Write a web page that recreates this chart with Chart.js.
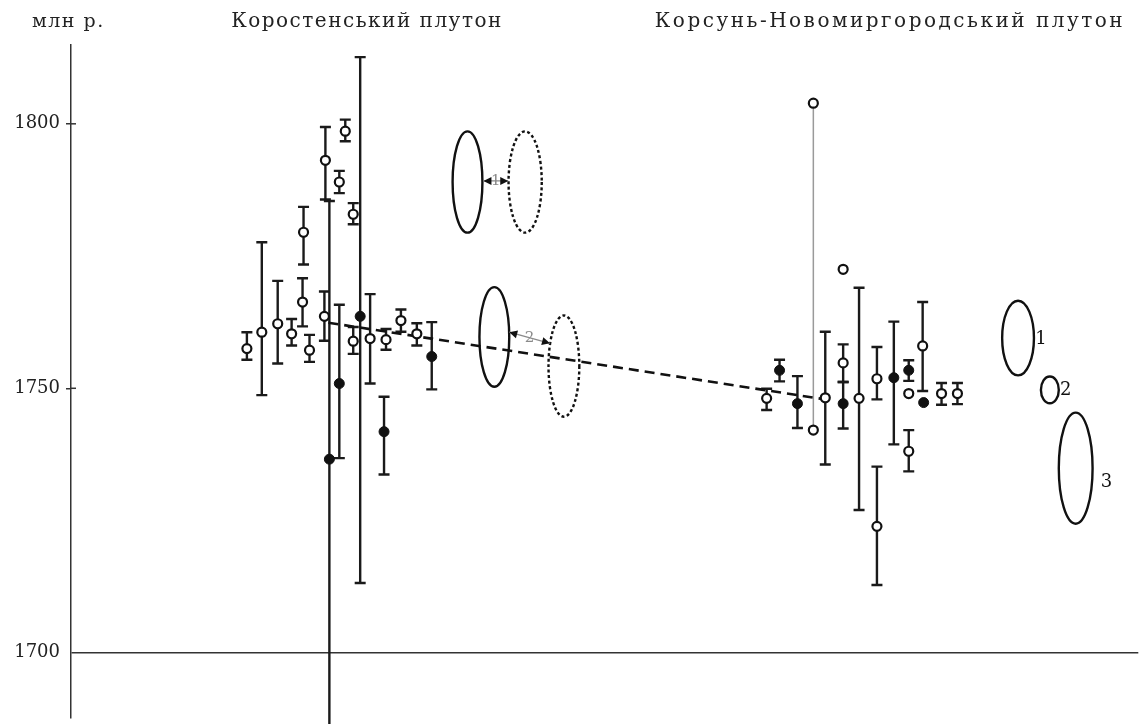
<!DOCTYPE html>
<html><head><meta charset="utf-8">
<script src="https://cdn.jsdelivr.net/npm/chart.js@4/dist/chart.umd.min.js"></script>
<style>html,body{margin:0;padding:0;background:#fff;} #wrap{width:1145px;height:724px;position:relative;}</style>
</head><body><div id="wrap"><canvas id="c" width="1145" height="724"></canvas></div>
<script>
// ---- data ----
const yTicks = [1700, 1750, 1800];
const unitLabel = 'млн р.';
const groupTitles = ['Коростенський плутон', 'Корсунь-Новомиргородський плутон'];

// open symbols: position, age, lower and upper limit (null = no bar)
const openX  = [17.7, 19.2, 20.8, 22.2, 23.3, 23.4, 24.0, 25.5, 25.6, 27.0, 27.6, 28.4, 28.4, 30.1, 31.7, 33.2, 34.8,
                70.0, 74.7, 74.7, 75.9, 77.7, 77.7, 79.3, 81.1, 81.1, 84.3, 84.3, 85.7, 87.6, 89.2];
const openY  = [1757.5, 1760.6, 1762.2, 1760.3, 1766.3, 1779.5, 1757.2, 1763.6, 1793.1, 1789.0, 1798.6, 1782.9, 1758.9, 1759.4, 1759.2, 1762.8, 1760.3,
                1748.1, 1742.1, 1803.9, 1748.2, 1754.8, 1772.5, 1748.1, 1751.8, 1723.9, 1749.0, 1738.1, 1758.0, 1749.0, 1749.0];
const openLo = [1755.4, 1748.7, 1754.7, 1758.1, 1761.7, 1773.4, 1755.0, 1759.0, 1785.7, 1786.9, 1796.7, 1781.0, 1756.5, 1750.9, 1757.3, 1760.7, 1758.1,
                1745.9, null, null, 1735.6, 1751.2, null, 1727.0, 1747.9, 1712.8, null, 1734.3, 1749.5, 1746.9, 1747.0];
const openHi = [1760.6, 1777.6, 1770.3, 1763.1, 1770.8, 1784.3, 1760.1, 1768.3, 1799.4, 1791.1, 1800.8, 1785.0, 1761.6, 1767.8, 1761.2, 1764.9, 1762.3,
                1749.9, null, null, 1760.7, 1758.3, null, 1769.0, 1757.8, 1735.2, null, 1742.1, 1766.3, 1751.0, 1751.0];

// filled symbols
const filledX  = [26.0, 27.0, 29.1, 31.5, 36.3, 71.3, 73.1, 77.7, 82.8, 84.3, 85.8];
const filledY  = [1736.6, 1750.9, 1763.6, 1741.8, 1756.0, 1753.4, 1747.1, 1747.1, 1752.0, 1753.4, 1747.3];
const filledLo = [1680.0, 1736.8, 1713.2, 1733.7, 1749.8, 1751.3, 1742.5, 1742.4, 1739.4, 1751.4, null];
const filledHi = [1785.4, 1765.8, 1812.6, 1748.4, 1762.5, 1755.4, 1752.3, 1751.2, 1762.6, 1755.3, null];

// thin grey range line
const rangeX  = [74.7];
const rangeLo = [1742.1];
const rangeHi = [1803.9];

// dashed trend
const trendX = [25.9, 75.9];
const trendY = [1762.4, 1747.9];

// ellipses: centre, half-width (position units), half-height (Ma), dashed?, label
const ellX      = [39.9, 45.7, 42.6, 49.6, 95.3, 98.5, 101.1];
const ellY      = [1789.0, 1789.0, 1759.7, 1754.2, 1759.5, 1749.7, 1734.9];
const ellRx     = [1.5, 1.67, 1.5, 1.55, 1.6, 0.9, 1.7];
const ellRy     = [9.57, 9.57, 9.42, 9.57, 7.06, 2.54, 10.5];
const ellDashed = [false, true, false, true, false, false, false];
const ellLabelX = [97.6, 100.1, 104.2];
const ellLabelY = [1759.3, 1749.6, 1732.2];
const ellLabels = ['1', '2', '3'];

// arrows between ellipse pairs
const arrowX1 = [41.5, 44.1];
const arrowY1 = [1789.2, 1760.6];
const arrowX2 = [44.0, 48.2];
const arrowY2 = [1789.2, 1758.5];
const arrowLabels = ['1', '2'];

// ---- drawing ----
const serif = "'DejaVu Serif', 'Liberation Serif', serif";
const toPts = (xs, ys) => xs.map((x, i) => ({x: x, y: ys[i]}));

function drawBars(ctx, xs, lo, hi, sx, sy, color, width, caps) {
  ctx.strokeStyle = color; ctx.lineWidth = width; ctx.lineCap = 'butt';
  for (let i = 0; i < xs.length; i++) {
    if (lo[i] == null || hi[i] == null) continue;
    const px = sx.getPixelForValue(xs[i]);
    const p1 = sy.getPixelForValue(lo[i]);
    const p2 = sy.getPixelForValue(hi[i]);
    ctx.beginPath(); ctx.moveTo(px, p1); ctx.lineTo(px, p2); ctx.stroke();
    if (caps) {
      ctx.beginPath();
      ctx.moveTo(px - 5.5, p1); ctx.lineTo(px + 5.5, p1);
      ctx.moveTo(px - 5.5, p2); ctx.lineTo(px + 5.5, p2);
      ctx.stroke();
    }
  }
}

function arrowHead(ctx, x, y, ang) {
  const L = 8, W = 4;
  ctx.beginPath();
  ctx.moveTo(x, y);
  ctx.lineTo(x - L * Math.cos(ang) + W * Math.sin(ang), y - L * Math.sin(ang) - W * Math.cos(ang));
  ctx.lineTo(x - L * Math.cos(ang) - W * Math.sin(ang), y - L * Math.sin(ang) + W * Math.cos(ang));
  ctx.closePath(); ctx.fill();
}

const marksPlugin = {
  id: 'marks',
  beforeDatasetsDraw(chart) {
    const {ctx, chartArea: a, scales: {x: sx, y: sy}} = chart;
    ctx.save();
    ctx.beginPath(); ctx.rect(a.left, a.top - 20, a.right - a.left, a.bottom - a.top + 30); ctx.clip();
    drawBars(ctx, rangeX, rangeLo, rangeHi, sx, sy, '#9a9a9a', 1.5, false);
    drawBars(ctx, openX, openLo, openHi, sx, sy, '#1a1a1a', 2.4, true);
    drawBars(ctx, filledX, filledLo, filledHi, sx, sy, '#1a1a1a', 2.4, true);
    // ellipses
    ctx.strokeStyle = '#111'; ctx.lineWidth = 2.4;
    for (let i = 0; i < ellX.length; i++) {
      const cx = sx.getPixelForValue(ellX[i]);
      const cy = sy.getPixelForValue(ellY[i]);
      const rx = Math.abs(sx.getPixelForValue(ellX[i] + ellRx[i]) - cx);
      const ry = Math.abs(sy.getPixelForValue(ellY[i] + ellRy[i]) - cy);
      ctx.setLineDash(ellDashed[i] ? [3, 2.5] : []);
      ctx.beginPath(); ctx.ellipse(cx, cy, rx, ry, 0, 0, Math.PI * 2); ctx.stroke();
    }
    ctx.setLineDash([]);
    // arrows
    for (let i = 0; i < arrowX1.length; i++) {
      const x1 = sx.getPixelForValue(arrowX1[i]), y1 = sy.getPixelForValue(arrowY1[i]);
      const x2 = sx.getPixelForValue(arrowX2[i]), y2 = sy.getPixelForValue(arrowY2[i]);
      ctx.strokeStyle = '#8a8a8a'; ctx.lineWidth = 1.3;
      ctx.beginPath(); ctx.moveTo(x1, y1); ctx.lineTo(x2, y2); ctx.stroke();
      ctx.fillStyle = '#111';
      const ang = Math.atan2(y2 - y1, x2 - x1);
      arrowHead(ctx, x2, y2, ang);
      arrowHead(ctx, x1, y1, ang + Math.PI);
      ctx.fillStyle = '#8a8a8a';
      ctx.font = '15px ' + serif; ctx.textAlign = 'center'; ctx.textBaseline = 'middle';
      ctx.fillText(arrowLabels[i], (x1 + x2) / 2, (y1 + y2) / 2);
    }
    // ellipse labels
    ctx.fillStyle = '#111'; ctx.font = '18px ' + serif; ctx.textAlign = 'center'; ctx.textBaseline = 'middle';
    for (let i = 0; i < ellLabels.length; i++) {
      ctx.fillText(ellLabels[i], sx.getPixelForValue(ellLabelX[i]), sy.getPixelForValue(ellLabelY[i]));
    }
    ctx.restore();
  },
  afterDraw(chart) {
    const {ctx, chartArea: a, scales: {y: sy}} = chart;
    ctx.save();
    // inner half of the tick marks
    ctx.strokeStyle = '#333'; ctx.lineWidth = 1.5;
    yTicks.forEach(v => {
      if (v === 1700) return;
      const py = sy.getPixelForValue(v);
      ctx.beginPath(); ctx.moveTo(a.left, py); ctx.lineTo(a.left + 5, py); ctx.stroke();
    });
    // header texts
    ctx.fillStyle = '#222'; ctx.textBaseline = 'middle';
    try { ctx.letterSpacing = '1.5px'; } catch (e) {}
    ctx.font = '19px ' + serif; ctx.textAlign = 'left';
    ctx.fillText(unitLabel, 32, 22);
    ctx.font = '20px ' + serif; ctx.textAlign = 'center';
    ctx.fillText(groupTitles[0], 367, 22);
    try { ctx.letterSpacing = '2.5px'; } catch (e) {}
    ctx.fillText(groupTitles[1], 890, 22);
    ctx.restore();
  }
};

new Chart(document.getElementById('c'), {
  type: 'scatter',
  data: {
    datasets: [
      {type: 'line', data: toPts(trendX, trendY), borderColor: '#111', borderWidth: 2.6,
       borderDash: [10, 6], pointRadius: 0, fill: false, order: 3},
      {data: toPts(filledX, filledY), pointRadius: 5, backgroundColor: '#111', borderColor: '#111',
       borderWidth: 1, order: 2},
      {data: toPts(openX, openY), pointRadius: 4.5, backgroundColor: '#fff', borderColor: '#111',
       borderWidth: 2.2, order: 1}
    ]
  },
  options: {
    responsive: false, animation: false, events: [],
    layout: {padding: {top: 45, right: 0, bottom: 4, left: 0}},
    plugins: {legend: {display: false}, tooltip: {enabled: false}, title: {display: false}},
    scales: {
      x: {type: 'linear', min: 0, max: 107.4, display: false},
      y: {
        type: 'linear', min: 1687.8, max: 1814.9,
        afterFit: s => { s.width = 71; s.paddingTop = 0; s.paddingBottom = 0; },
        afterBuildTicks: s => { s.ticks = yTicks.map(v => ({value: v})); },
        ticks: {font: {family: serif, size: 18}, color: '#222', padding: 6, callback: v => String(v)},
        grid: {
          drawOnChartArea: true, drawTicks: true, tickLength: 5, lineWidth: 1.5,
          color: c => (c.tick && c.tick.value === 1700) ? '#333' : 'rgba(0,0,0,0)',
          tickColor: c => (c.tick && c.tick.value === 1700) ? 'rgba(0,0,0,0)' : '#333'
        },
        border: {display: true, color: '#333', width: 1.5}
      }
    }
  },
  plugins: [marksPlugin]
});
</script>
</body></html>
